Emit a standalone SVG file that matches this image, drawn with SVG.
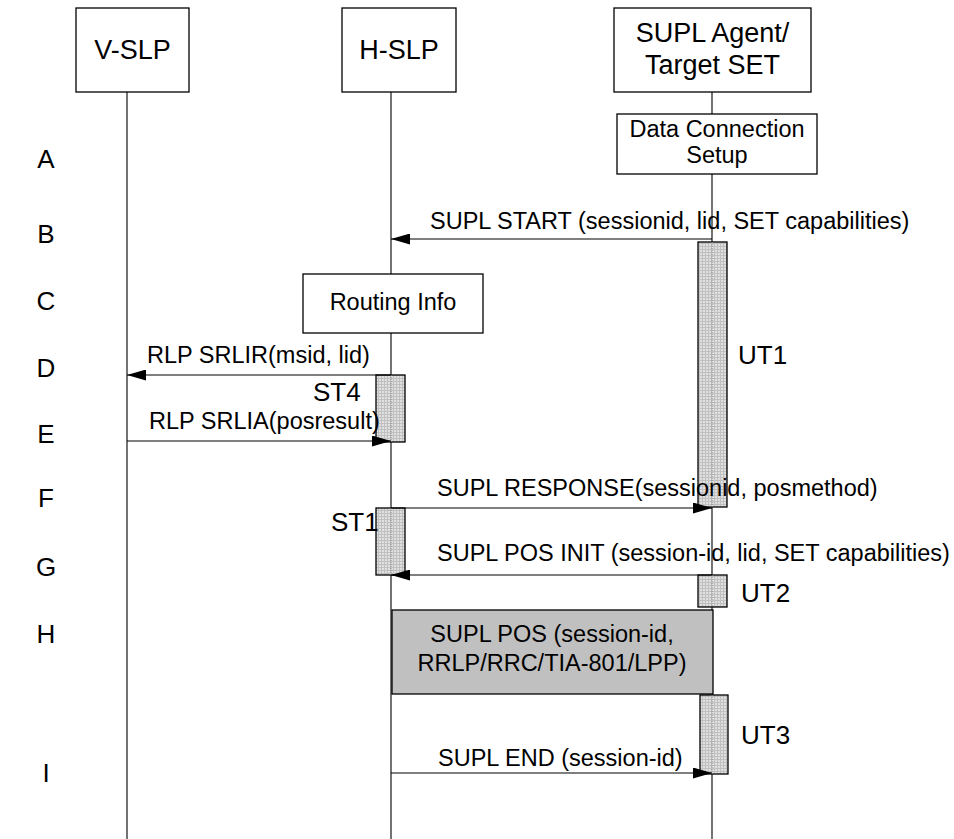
<svg xmlns="http://www.w3.org/2000/svg" width="954" height="839" viewBox="0 0 954 839">
<style>
text{font-family:"Liberation Sans",Arial,sans-serif;fill:#000}
.hd{font-size:27px;text-anchor:middle}
.lb{font-size:23.5px}
.ctr{text-anchor:middle}
.step{font-size:26px;text-anchor:middle}
.tm{font-size:26px}
.box{fill:#fff;stroke:#000;stroke-width:1.3}
.life{stroke:#000;stroke-width:1.1;fill:none}
.msg{stroke:#000;stroke-width:1.1;fill:none}
.timer{fill:url(#hatch);stroke:#000;stroke-width:1.3}
.dl{stroke:#888;stroke-width:1;stroke-dasharray:1 1}
</style>
<defs>
<pattern id="hatch" width="3" height="3" patternUnits="userSpaceOnUse">
<rect width="3" height="3" fill="#e0e0e0"/>
<path d="M0 0.5H3M0.5 0V3" stroke="#c0c0c0" stroke-width="1"/>
</pattern>
<marker id="ah" markerWidth="19" markerHeight="11" refX="19" refY="5.5" orient="auto" markerUnits="userSpaceOnUse">
<path d="M0 0L19 5.5L0 11Z" fill="#000"/>
</marker>
</defs>
<rect width="954" height="839" fill="#fff"/>

<g id="lifelines">
<line class="life" x1="127" y1="92" x2="127" y2="839"/>
<line class="life" x1="391" y1="92" x2="391" y2="839"/>
<line class="life" x1="712" y1="92" x2="712" y2="839"/>
</g>

<g id="step-labels">
<text class="step" x="46" y="168">A</text>
<text class="step" x="46" y="243">B</text>
<text class="step" x="46" y="310">C</text>
<text class="step" x="46" y="377">D</text>
<text class="step" x="46" y="443">E</text>
<text class="step" x="46" y="507">F</text>
<text class="step" x="46" y="576">G</text>
<text class="step" x="46" y="643">H</text>
<text class="step" x="46" y="782">I</text>
</g>

<g id="v-slp">
<rect class="box" x="76" y="8" width="113" height="84"/>
<text class="hd" x="132.5" y="59">V-SLP</text>
</g>
<g id="h-slp">
<rect class="box" x="342" y="8" width="114" height="84"/>
<text class="hd" x="399" y="59">H-SLP</text>
</g>
<g id="supl-agent">
<rect class="box" x="614" y="8" width="197" height="84"/>
<text class="hd" x="712.5" y="42">SUPL Agent/</text>
<text class="hd" x="712.5" y="74">Target SET</text>
</g>

<g id="data-connection">
<rect class="box" x="617" y="114" width="200" height="60"/>
<text class="lb ctr" x="717" y="137">Data Connection</text>
<text class="lb ctr" x="717" y="163">Setup</text>
</g>

<g id="routing-info">
<rect class="box" x="303" y="274" width="180" height="59"/>
<text class="lb ctr" x="393" y="310">Routing Info</text>
</g>

<g id="supl-pos">
<rect x="392" y="610" width="321" height="84" fill="#c0c0c0" stroke="#000" stroke-width="1.3"/>
<text class="lb ctr" x="552" y="642">SUPL POS (session-id,</text>
<text class="lb ctr" x="552" y="671">RRLP/RRC/TIA-801/LPP)</text>
</g>

<g id="timer-ut1">
<rect class="timer" x="698" y="242" width="29" height="265"/>
<line class="dl" x1="712" y1="242" x2="712" y2="507"/>
<text class="tm" x="738" y="364">UT1</text>
</g>
<g id="timer-st4">
<rect class="timer" x="376" y="375" width="29" height="67"/>
<line class="dl" x1="391" y1="375" x2="391" y2="442"/>
<text class="tm" x="313" y="401">ST4</text>
</g>
<g id="timer-st1">
<rect class="timer" x="376" y="508" width="29" height="67"/>
<line class="dl" x1="391" y1="508" x2="391" y2="575"/>
<text class="tm" x="331" y="531">ST1</text>
</g>
<g id="timer-ut2">
<rect class="timer" x="698" y="575" width="29" height="32"/>
<line class="dl" x1="712" y1="575" x2="712" y2="607"/>
<text class="tm" x="741" y="602">UT2</text>
</g>
<g id="timer-ut3">
<rect class="timer" x="700" y="695" width="28" height="79"/>
<line class="dl" x1="712" y1="695" x2="712" y2="774"/>
<text class="tm" x="741" y="744">UT3</text>
</g>

<g id="connectors">
<line class="msg" x1="712" y1="239" x2="391" y2="239" marker-end="url(#ah)"/>
<text class="lb" x="430" y="229">SUPL START (sessionid, lid, SET capabilities)</text>

<line class="msg" x1="391" y1="375" x2="127" y2="375" marker-end="url(#ah)"/>
<text class="lb" x="147" y="363">RLP SRLIR(msid, lid)</text>

<line class="msg" x1="127" y1="441" x2="391" y2="441" marker-end="url(#ah)"/>
<text class="lb" x="149" y="429">RLP SRLIA(posresult)</text>

<line class="msg" x1="391" y1="508" x2="712" y2="508" marker-end="url(#ah)"/>
<text class="lb" x="437" y="496">SUPL RESPONSE(sessionid, posmethod)</text>

<line class="msg" x1="712" y1="575" x2="391" y2="575" marker-end="url(#ah)"/>
<text class="lb" x="437" y="561">SUPL POS INIT (session-id, lid, SET capabilities)</text>

<line class="msg" x1="391" y1="773" x2="712" y2="773" marker-end="url(#ah)"/>
<text class="lb" x="438" y="766">SUPL END (session-id)</text>
</g>
</svg>
